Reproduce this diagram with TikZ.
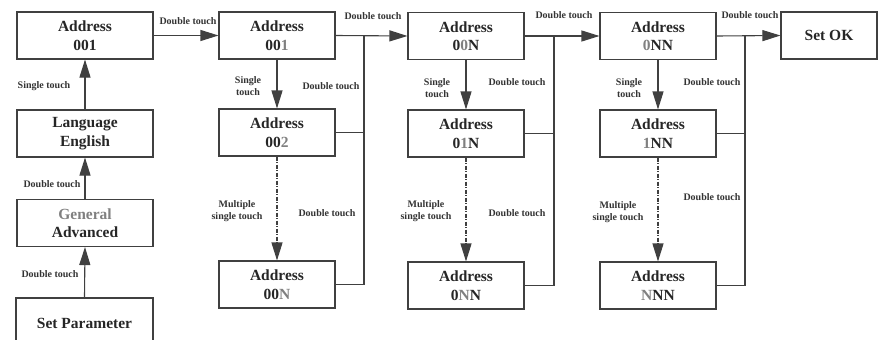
\documentclass[tikz,border=0pt]{standalone}
\usepackage{fontspec}
\setmainfont{Liberation Serif}
\usetikzlibrary{arrows.meta}
\definecolor{ln}{HTML}{404040}
\definecolor{gy}{HTML}{808080}
\begin{document}
\begin{tikzpicture}[x=1pt,y=-1pt,
  box/.style={draw=ln, line width=1.1pt, minimum height=47pt, inner sep=0pt, align=center,
    font=\fontsize{15.5}{18.5}\selectfont\bfseries, text=black!85},
  lab/.style={font=\fontsize{10}{12.5}\selectfont\bfseries, align=center, text=black!80, inner sep=0pt},
  con/.style={draw=ln, line width=1.1pt},
  arr/.style={con, -{Triangle[length=18pt,width=11pt]}},
  dd/.style={arr, dash pattern=on 4pt off 1.5pt on 1pt off 1.5pt}]
\useasboundingbox (0,0) rectangle (879,340);
\begin{scope}
\clip (0,0) rectangle (879,340);
% column 1
\node[box, minimum width=136pt] (a1) at (85,35.5) {Address\\001};
\node[box, minimum width=136pt] (l1) at (85,133.5) {Language\\English};
\node[box, minimum width=136pt] (g1) at (85,223) {\textcolor{gy}{General}\\Advanced};
\node[box, minimum width=137pt, minimum height=50pt] (s1) at (84.5,323) {Set Parameter};
% column 2
\node[box, minimum width=116pt] (a2) at (277,35.5) {Address\\00\textcolor{gy}{1}};
\node[box, minimum width=116pt] (b2) at (277,132.5) {Address\\00\textcolor{gy}{2}};
\node[box, minimum width=116pt] (c2) at (277,284.5) {Address\\00\textcolor{gy}{N}};
% column 3
\node[box, minimum width=116pt] (a3) at (466,36) {Address\\0\textcolor{gy}{0}N};
\node[box, minimum width=116pt] (b3) at (466,133.5) {Address\\0\textcolor{gy}{1}N};
\node[box, minimum width=116pt] (c3) at (466,285.5) {Address\\0\textcolor{gy}{N}N};
% column 4
\node[box, minimum width=116pt] (a4) at (658,36) {Address\\\textcolor{gy}{0}NN};
\node[box, minimum width=116pt] (b4) at (658,133.5) {Address\\\textcolor{gy}{1}NN};
\node[box, minimum width=116pt] (c4) at (658,285.5) {Address\\\textcolor{gy}{N}NN};
% set ok
\node[box, minimum width=96pt] (ok) at (829,35.5) {Set OK};
% junctions
\coordinate (j2) at (364,35.5);
\coordinate (j3) at (554,36);
\coordinate (j4) at (745,36);
% column 1 arrows
\draw[arr] (s1.north) -- (g1.south);
\draw[arr] (g1.north) -- (l1.south);
\draw[arr] (l1.north) -- (a1.south);
\draw[arr] (a1.east) -- (a2.west);
% column 2
\draw[arr] (a2.east) -- (a3.west);
\draw[arr] (a2.south) -- (b2.north);
\draw[dd] (b2.south) -- (c2.north);
\draw[con] (b2.east) -| (j2);
\draw[con] (c2.east) -| (j2);
% column 3
\draw[arr] (a3.east) -- (a4.west);
\draw[arr] (a3.south) -- (b3.north);
\draw[dd] (b3.south) -- (c3.north);
\draw[con] (b3.east) -| (j3);
\draw[con] (c3.east) -| (j3);
% column 4
\draw[arr] (a4.east) -- (ok.west);
\draw[arr] (a4.south) -- (b4.north);
\draw[dd] (b4.south) -- (c4.north);
\draw[con] (b4.east) -| (j4);
\draw[con] (c4.east) -| (j4);
\end{scope}
% labels
\node[lab] (t1) at (188,21) {Double touch};
\node[lab] (t2) at (44,86) {Single touch};
\node[lab] (t3) at (52,184) {Double touch};
\node[lab] (t4) at (50,274) {Double touch};
\node[lab] (t5) at (373,16) {Double touch};
\node[lab] (t6) at (248,86) {Single\\touch};
\node[lab] (t7) at (331,86) {Double touch};
\node[lab] (t8) at (237,211) {Multiple\\single touch};
\node[lab] (t9) at (327,213) {Double touch};
\node[lab] (t10) at (564,15) {Double touch};
\node[lab] (t11) at (437,88) {Single\\touch};
\node[lab] (t12) at (517,82) {Double touch};
\node[lab] (t13) at (426,211) {Multiple\\single touch};
\node[lab] (t14) at (517,213) {Double touch};
\node[lab] (t15) at (750,15) {Double touch};
\node[lab] (t16) at (629,88) {Single\\touch};
\node[lab] (t17) at (712,82) {Double touch};
\node[lab] (t18) at (618,212) {Multiple\\single touch};
\node[lab] (t19) at (712,197) {Double touch};
\end{tikzpicture}
\end{document}
